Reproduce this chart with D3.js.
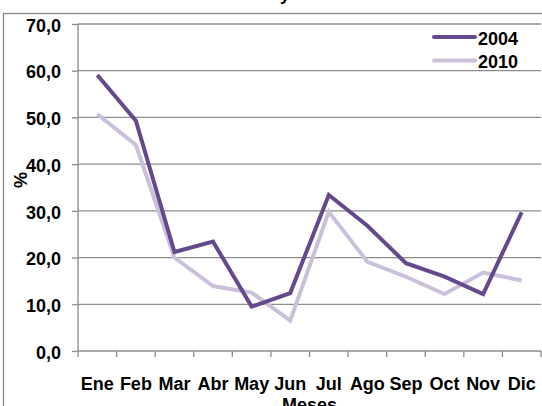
<!DOCTYPE html>
<html>
<head>
<meta charset="utf-8">
<script src="https://cdn.jsdelivr.net/npm/d3@7/dist/d3.min.js"></script>
<style>
html,body{margin:0;padding:0;background:#fff;}
svg{display:block;font-family:"Liberation Sans",Arial,sans-serif;}
</style>
</head>
<body>
<svg id="chart" width="542" height="406"></svg>
<script>
const months = ["Ene","Feb","Mar","Abr","May","Jun","Jul","Ago","Sep","Oct","Nov","Dic"];
const series2004 = [59.1,49.3,21.2,23.4,9.5,12.4,33.4,26.8,18.8,15.9,12.2,29.7];
const series2010 = [50.7,44.1,20.0,13.9,12.5,6.5,29.8,19.1,15.9,12.2,16.8,15.1];
const yTicks = [0,10,20,30,40,50,60,70];
const seriesNames = ["2004","2010"];
const colors = ["#65498D","#CBC0DC"];

(function(){
const svg = d3.select("#chart");
const pL = 78, pR = 541, pT = 24, pB = 351;
const FS = 18;

// outer border
svg.append("rect").attr("x",3.5).attr("y",13.5).attr("width",560).attr("height",420)
  .attr("fill","none").attr("stroke","#8c8c8c").attr("stroke-width",1.3);

// title (mostly cut off above)
svg.append("text").attr("x",260).attr("y",-0.5).attr("text-anchor","middle")
  .attr("font-weight","bold").attr("font-size",FS).text("Años 2004 y 2010");

const x = d3.scaleBand().domain(months).range([pL,pR]).padding(0);
const y = d3.scaleLinear().domain([0,70]).range([pB,pT]);

// gridlines
svg.append("g").selectAll("line").data(yTicks.filter(d=>d>0)).join("line")
  .attr("x1",pL).attr("x2",pR).attr("y1",d=>y(d)).attr("y2",d=>y(d))
  .attr("stroke","#8c8c8c").attr("stroke-width",1.3);

// y axis
const yAxis = d3.axisLeft(y).tickValues(yTicks).tickSize(6)
  .tickFormat(d=>d3.format(".1f")(d).replace(".",","));
const gy = svg.append("g").attr("transform",`translate(${pL},0)`).call(yAxis);
gy.select(".domain").attr("stroke","#8c8c8c").attr("stroke-width",1.3).attr("d",`M0,${y(70)}V${pB}`);
gy.selectAll(".tick line").attr("stroke","#8c8c8c").attr("stroke-width",1.3);
gy.selectAll(".tick text").attr("x",-17).attr("dy","0.4em").attr("font-size",FS)
  .attr("font-weight","bold").attr("fill","#000").attr("font-family","Liberation Sans, Arial, sans-serif");

// x axis
const xAxis = d3.axisBottom(x).tickSize(0).tickSizeOuter(0);
const gx = svg.append("g").attr("transform",`translate(0,${pB})`).call(xAxis);
gx.select(".domain").attr("stroke","#8c8c8c").attr("stroke-width",1.3).attr("d",`M${pL},0H${pR}`);
gx.selectAll(".tick text").attr("y",39).attr("dy",0).attr("font-size",FS)
  .attr("font-weight","bold").attr("fill","#000").attr("font-family","Liberation Sans, Arial, sans-serif");
// boundary ticks
const bounds = months.map(m=>x(m)).concat([pR]);
svg.append("g").selectAll("line").data(bounds).join("line")
  .attr("x1",d=>d).attr("x2",d=>d).attr("y1",pB).attr("y2",pB+6)
  .attr("stroke","#8c8c8c").attr("stroke-width",1.3);

// axis titles
svg.append("text").attr("transform","translate(27,180) rotate(-90)").attr("text-anchor","middle")
  .attr("font-weight","bold").attr("font-size",FS).text("%");
svg.append("text").attr("x",(pL+pR)/2).attr("y",411).attr("text-anchor","middle")
  .attr("font-weight","bold").attr("font-size",FS).text("Meses");

// lines
const line = d3.line().x((d,i)=>x(months[i])+x.bandwidth()/2).y(d=>y(d));
svg.append("path").datum(series2010).attr("d",line).attr("fill","none")
  .attr("stroke",colors[1]).attr("stroke-width",4).attr("stroke-linejoin","miter");
svg.append("path").datum(series2004).attr("d",line).attr("fill","none")
  .attr("stroke",colors[0]).attr("stroke-width",4).attr("stroke-linejoin","miter");

// legend
const lg = svg.append("g");
seriesNames.forEach((n,i)=>{
  const ly = 37 + i*23.5;
  lg.append("line").attr("x1",434).attr("x2",475).attr("y1",ly).attr("y2",ly)
    .attr("stroke",colors[i]).attr("stroke-width",4).attr("stroke-linecap","round");
  lg.append("text").attr("x",478).attr("y",ly+7.5).attr("font-weight","bold").attr("font-size",FS).text(n);
});
})();
</script>
</body>
</html>
